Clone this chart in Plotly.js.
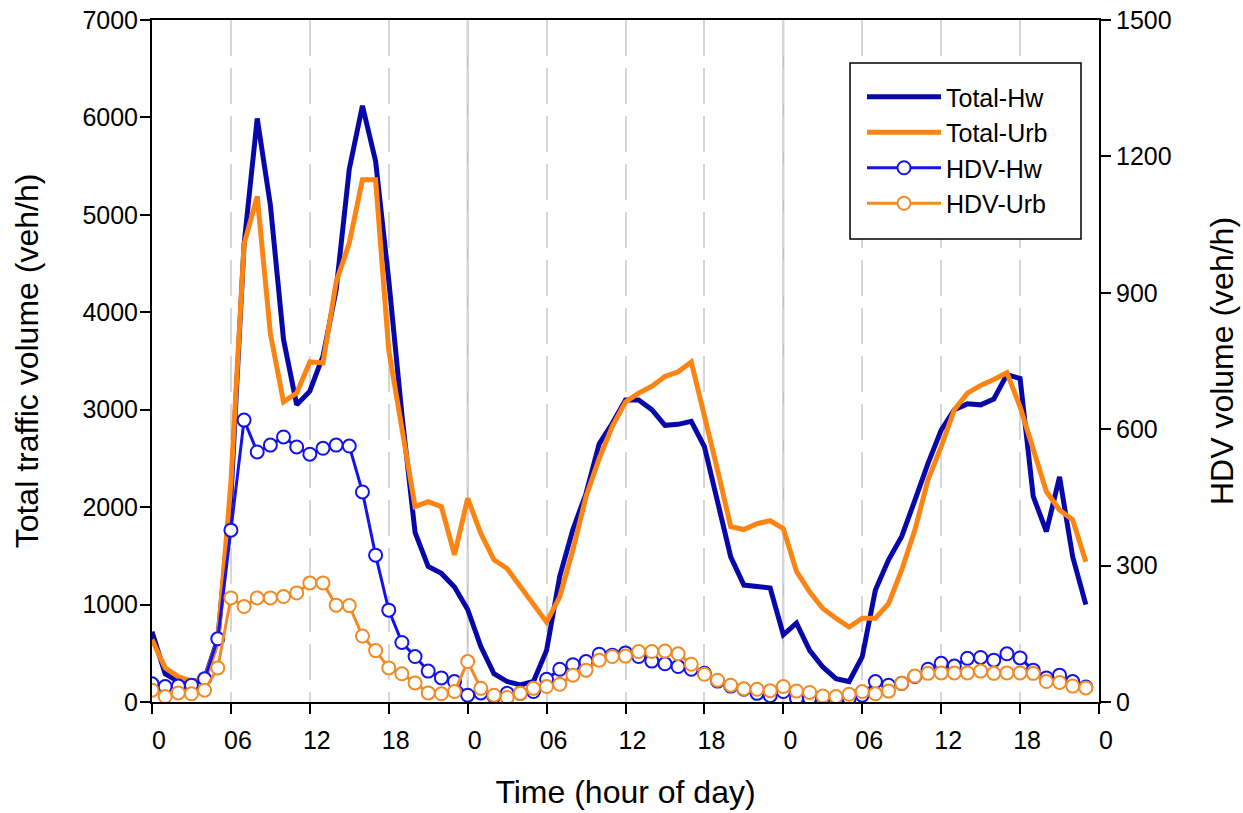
<!DOCTYPE html>
<html>
<head>
<meta charset="utf-8">
<script src="https://cdn.plot.ly/plotly-3.0.1.min.js"></script>
<style>
  html, body { margin: 0; padding: 0; background: #ffffff; }
  #chart { width: 1243px; height: 813px; }
</style>
</head>
<body>
<div id="chart"></div>
<script>
// Hour index over three days
const hours = [0,1,2,3,4,5,6,7,8,9,10,11,12,13,14,15,16,17,18,19,20,21,22,23,
               24,25,26,27,28,29,30,31,32,33,34,35,36,37,38,39,40,41,42,43,44,45,46,47,
               48,49,50,51,52,53,54,55,56,57,58,59,60,61,62,63,64,65,66,67,68,69,70,71];

// Total traffic volume (veh/h), left axis
const totalHw = [720,290,210,175,240,640,2100,4700,5990,5100,3720,3050,3190,3550,4230,5470,6120,5550,4330,2950,1740,1390,1320,1180,
                 950,570,290,210,175,210,530,1290,1770,2140,2650,2860,3100,3100,3000,2840,2850,2880,2620,2070,1490,1200,1180,1170,
                 690,810,530,360,240,210,465,1150,1460,1700,2070,2450,2790,3000,3060,3050,3110,3360,3320,2110,1750,2310,1490,1000];
const totalUrb = [640,350,260,215,230,620,2250,4700,5190,3780,3080,3170,3490,3480,4310,4710,5360,5360,3610,2820,2005,2056,2005,1510,
                  2090,1730,1460,1370,1180,1000,820,1080,1560,2110,2500,2830,3080,3170,3240,3340,3390,3490,2960,2380,1800,1770,1830,1860,
                  1780,1340,1130,960,860,770,860,860,1010,1355,1765,2280,2620,3000,3170,3250,3310,3380,3030,2590,2160,1970,1870,1440];

// HDV volume (veh/h), right axis
const hdvHw = [40,34,35,37,51,139,378,620,550,565,583,561,545,558,565,563,462,323,202,131,100,68,53,45,
               15,20,12,19,19,23,50,72,82,89,105,103,108,100,90,84,78,72,63,46,35,28,19,14,
               23,8,8,4,3,8,15,45,37,41,56,72,85,79,96,98,92,106,97,70,53,59,45,33];
const hdvUrb = [26,12,20,18,26,75,229,210,229,229,232,240,262,262,213,212,145,113,75,62,42,20,18,23,
                89,30,15,10,19,30,34,39,59,70,92,100,101,111,111,112,106,83,61,48,37,29,28,25,
                34,24,21,13,12,17,23,18,24,41,57,63,64,64,64,68,63,64,64,63,45,43,35,31];

// Axis ticks
const xTickVals = [0,6,12,18,24,30,36,42,48,54,60,66,72];
const xTickText = ["0","06","12","18","0","06","12","18","0","06","12","18","0"];
const dayBoundaries = [24,48];

const seriesNames = ["Total-Hw","Total-Urb","HDV-Hw","HDV-Urb"];

const FONT = "Liberation Sans, Arial, sans-serif";
const colHwTotal = "#0808aa";
const colUrbTotal = "#fb8412";
const colHwHdv = "#1414e8";
const colUrbHdv = "#f28a25";

const traces = [
  {x: hours, y: totalHw, name: seriesNames[0], type: "scatter", mode: "lines",
   line: {color: colHwTotal, width: 5}, yaxis: "y"},
  {x: hours, y: totalUrb, name: seriesNames[1], type: "scatter", mode: "lines",
   line: {color: colUrbTotal, width: 5}, yaxis: "y"},
  {x: hours, y: hdvHw, name: seriesNames[2], type: "scatter", mode: "lines+markers",
   line: {color: colHwHdv, width: 3},
   marker: {symbol: "circle", size: 13, color: "#ffffff", line: {color: colHwHdv, width: 2}},
   yaxis: "y2"},
  {x: hours, y: hdvUrb, name: seriesNames[3], type: "scatter", mode: "lines+markers",
   line: {color: colUrbHdv, width: 3},
   marker: {symbol: "circle", size: 13, color: "#ffffff", line: {color: colUrbHdv, width: 2}},
   yaxis: "y2"}
];

const shapes = dayBoundaries.map(d => ({
  type: "line", xref: "x", yref: "paper", x0: d, x1: d, y0: 0, y1: 1,
  line: {color: "#c4c4c4", width: 2}, layer: "between"
}));
// legend frame
shapes.push({
  type: "rect", xref: "paper", yref: "paper",
  x0: 0.7371, x1: 0.981, y0: 0.679, y1: 0.937,
  line: {color: "#000000", width: 1.5}, fillcolor: "#ffffff", layer: "above"
});

const layout = {
  width: 1243, height: 813,
  margin: {l: 152, r: 144, t: 20, b: 111},
  paper_bgcolor: "#ffffff", plot_bgcolor: "#ffffff",
  font: {family: FONT, color: "#000000", size: 24},
  showlegend: true,
  legend: {
    x: (862 - 152) / 947, y: (702 - 74) / 682, xanchor: "left", yanchor: "top",
    borderwidth: 0, bgcolor: "rgba(0,0,0,0)",
    font: {family: FONT, size: 25, color: "#000000"},
    itemwidth: 74, tracegroupgap: 0
  },
  xaxis: {
    range: [0, 72], tickvals: xTickVals, ticktext: xTickText,
    showline: true, linecolor: "#000000", linewidth: 2, mirror: true,
    ticks: "outside", ticklen: 10, tickwidth: 2, tickcolor: "#000000",
    ticklabelshift: 7, ticklabelstandoff: 5,
    showgrid: true, gridcolor: "#d6d6d6", gridwidth: 2, griddash: "36px,12px",
    zeroline: false,
    tickfont: {family: FONT, size: 25, color: "#000000"},
    title: {text: "Time (hour of day)", font: {family: FONT, size: 32, color: "#000000"}, standoff: 28}
  },
  yaxis: {
    range: [0, 7000], dtick: 1000, tick0: 0,
    showline: true, linecolor: "#000000", linewidth: 2,
    ticks: "outside", ticklen: 10, tickwidth: 2, tickcolor: "#000000",
    ticklabelstandoff: -3,
    showgrid: false, zeroline: false,
    tickfont: {family: FONT, size: 25, color: "#000000"},
    title: {text: "Total traffic volume (veh/h)", font: {family: FONT, size: 32, color: "#000000"}, standoff: 34}
  },
  yaxis2: {
    range: [0, 1500], dtick: 300, tick0: 0,
    overlaying: "y", side: "right",
    showline: true, linecolor: "#000000", linewidth: 2,
    ticks: "outside", ticklen: 10, tickwidth: 2, tickcolor: "#000000",
    showgrid: false, zeroline: false,
    tickfont: {family: FONT, size: 25, color: "#000000"},
    title: {text: "HDV volume (veh/h)", font: {family: FONT, size: 32, color: "#000000"}, standoff: 40}
  },
  shapes: shapes
};

Plotly.newPlot("chart", traces, layout, {displayModeBar: false, staticPlot: true});
</script>
</body>
</html>
